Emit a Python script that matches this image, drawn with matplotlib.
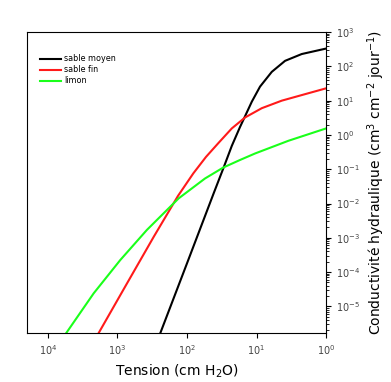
import matplotlib
matplotlib.use("Agg")
import matplotlib.pyplot as plt
import numpy as np
from matplotlib.ticker import LogLocator, NullFormatter, NullLocator

# Tension (cm H2O) et conductivité hydraulique (cm3 cm-2 jour-1)
tension_moyen = [242, 100, 41.3, 30.1, 22.7, 17.3, 14.6, 11.7, 8.91, 6.04, 3.89, 2.24, 1.0]
k_moyen = [1.66e-6, 1.8e-4, 2.0e-2, 0.105, 0.479, 1.70, 3.55, 9.33, 25.7, 69.2, 145, 229, 331]

tension_fin = [1866, 729, 301, 135, 81.1, 53.3, 35.5, 22.7, 14.6, 8.41, 4.34, 2.0, 1.0]
k_fin = [1.66e-6, 4.68e-5, 1.07e-3, 1.66e-2, 7.59e-2, 0.229, 0.575, 1.55, 3.24, 6.03, 10.0, 15.5, 22.9]

tension_limon = [5458, 2198, 912, 377, 132, 55.1, 30.1, 17.3, 10.5, 3.48, 1.0]
k_limon = [1.66e-6, 2.40e-5, 2.24e-4, 1.70e-3, 1.41e-2, 5.37e-2, 0.112, 0.186, 0.288, 0.676, 1.55]

fig = plt.figure(figsize=(3.91, 3.82), dpi=100)
ax = fig.add_axes([0.069, 0.128, 0.765, 0.788])

ax.plot(tension_moyen, k_moyen, color="black", lw=1.5, label="sable moyen")
ax.plot(tension_fin, k_fin, color="#ff1a1a", lw=1.5, label="sable fin")
ax.plot(tension_limon, k_limon, color="#1aff1a", lw=1.5, label="limon")

ax.set_xscale("log")
ax.set_yscale("log")
ax.set_xlim(2.0e4, 1.0)
ax.set_ylim(1.66e-6, 1e3)

ax.yaxis.tick_right()
ax.yaxis.set_label_position("right")
ax.xaxis.set_major_locator(LogLocator(base=10, numticks=10))
ax.xaxis.set_minor_locator(NullLocator())
ax.yaxis.set_major_locator(LogLocator(base=10, numticks=20))
ax.yaxis.set_minor_locator(LogLocator(base=10, subs=np.arange(2, 10), numticks=20))
ax.yaxis.set_minor_formatter(NullFormatter())
ax.tick_params(axis="both", which="major", labelsize=7, labelcolor="#444444",
               direction="out", length=3.5)
ax.tick_params(axis="y", which="minor", direction="out", length=2)

ax.set_xlabel("Tension (cm H$_2$O)", fontsize=10)
ax.set_ylabel("Conductivité hydraulique (cm$^3$ cm$^{-2}$ jour$^{-1}$)", fontsize=10)

ax.legend(loc="upper left", bbox_to_anchor=(0.02, 0.95), frameon=False,
          fontsize=5.8, handlelength=2.6, handletextpad=0.4, labelspacing=0.25)

fig.savefig("out.png", dpi=100)
